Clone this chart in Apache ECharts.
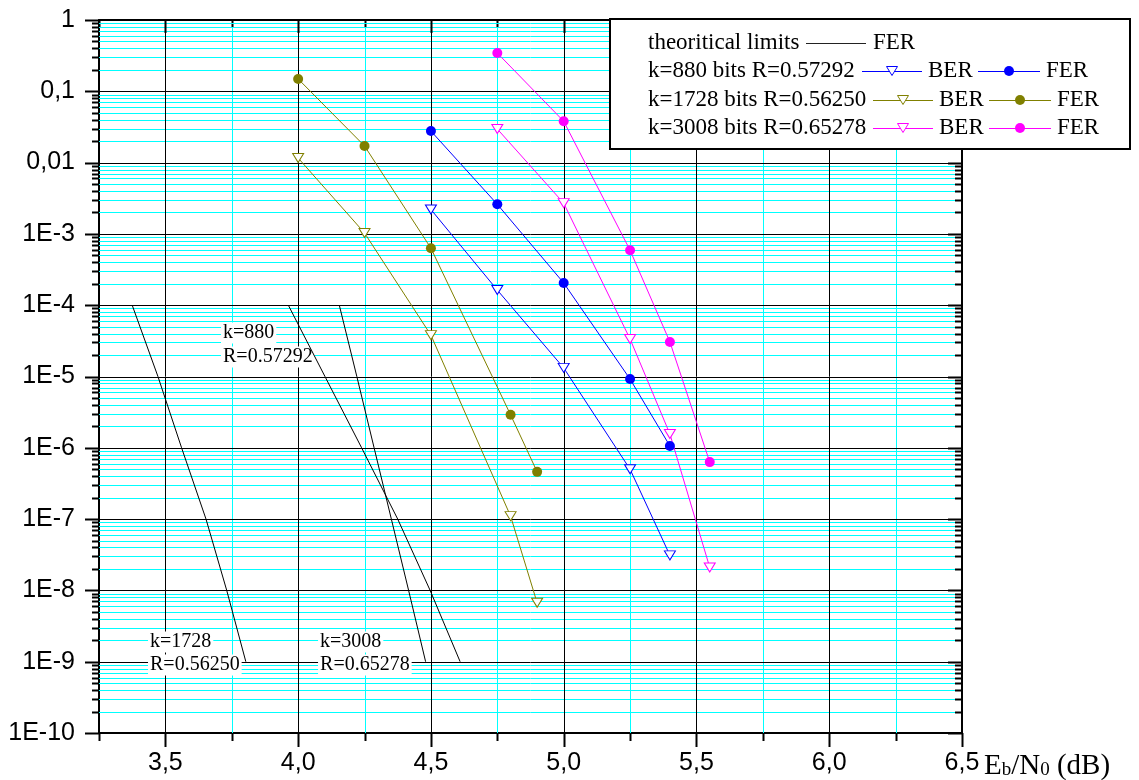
<!DOCTYPE html>
<html><head><meta charset="utf-8">
<script src="https://cdn.jsdelivr.net/npm/echarts@6/dist/echarts.min.js"></script>
<style>html,body{margin:0;padding:0;background:#fff}#c{width:1139px;height:780px}</style>
</head><body><div id="c"></div>
<script>
// ---------- data ----------
const ebn0_880  = [4.5, 4.75, 5.0, 5.25, 5.4];
const ber_880   = [2.2e-3, 1.63e-4, 1.32e-5, 5.0e-7, 3.1e-8];
const fer_880   = [0.0277, 2.6e-3, 2.05e-4, 9.2e-6, 1.06e-6];
const ebn0_1728 = [4.0, 4.25, 4.5, 4.8, 4.9];
const ber_1728  = [0.0116, 1.03e-3, 3.8e-5, 1.1e-7, 6.7e-9];
const fer_1728  = [0.149, 0.0171, 6.3e-4, 2.9e-6, 4.6e-7];
const ebn0_3008 = [4.75, 5.0, 5.25, 5.4, 5.55];
const ber_3008  = [0.0296, 2.7e-3, 3.36e-5, 1.56e-6, 2.1e-8];
const fer_3008  = [0.344, 0.038, 5.9e-4, 3.05e-5, 6.3e-7];
// theoretical limits (FER)
const limit_fer  = [1e-4, 1e-5, 1e-6, 1e-7, 1e-8, 1e-9];
const limit_880  = [3.963, 4.101, 4.239, 4.375, 4.497, 4.61];
const limit_1728 = [3.375, 3.472, 3.561, 3.653, 3.731, 3.803];
const limit_3008 = [4.155, 4.221, 4.286, 4.351, 4.416, 4.48];
// ticks
const xMajorTicks = [3.5, 4.0, 4.5, 5.0, 5.5, 6.0, 6.5];
const xMinorTicks = [3.25, 3.75, 4.25, 4.75, 5.25, 5.75, 6.25];
const yDecades = [0, -1, -2, -3, -4, -5, -6, -7, -8, -9, -10];
const yMinorMult = [2, 3, 4, 5, 6, 7, 8, 9];
const yTickLabels = {'0':'1','-1':'0,1','-2':'0,01','-3':'1E-3','-4':'1E-4','-5':'1E-5','-6':'1E-6','-7':'1E-7','-8':'1E-8','-9':'1E-9','-10':'1E-10'};
const legendLabels = ['theoritical limits', 'k=880 bits R=0.57292', 'k=1728 bits R=0.56250', 'k=3008 bits R=0.65278'];
const annotTexts = ['k=880', 'R=0.57292', 'k=1728', 'R=0.56250', 'k=3008', 'R=0.65278'];
const annotPos = [[3.7095, 4.07e-5], [3.7095, 1.875e-5], [3.4346, 1.89e-9], [3.4346, 9.0e-10], [4.0749, 1.89e-9], [4.0749, 9.0e-10]];

// ---------- helpers ----------
const zip = (xs, ys) => xs.map((x, i) => [x, ys[i]]);
const SANS = 'Liberation Sans';
const SERIF = 'Liberation Serif';
const BLUE = '#0000ff', OLIVE = '#808000', MAG = '#ff00ff';

// grid items: [x, y, kind]  kind 0 xMajor,1 xMinor,2 yMajor,3 yMinor
const gridData = [];
xMinorTicks.forEach(v => gridData.push([v, 1e-5, 1]));
yDecades.forEach(d => yMinorMult.forEach(m => { const v = m * Math.pow(10, d); if (v < 1) gridData.push([4, v, 3]); }));
xMajorTicks.forEach(v => gridData.push([v, 1e-5, 0]));
yDecades.forEach(d => gridData.push([4, Math.pow(10, d), 2]));

const h = v => Math.round(v) + 0.5;

function renderGrid(params, api) {
  const cs = params.coordSys;
  const L = cs.x, R = cs.x + cs.width, T = cs.y, B = cs.y + cs.height;
  const kind = api.value(2);
  const ch = [];
  if (kind < 2) {
    const px = h(api.coord([api.value(0), 1e-5])[0]);
    const major = kind === 0;
    if (px > L + 2 && px < R - 2)
      ch.push({type: 'line', shape: {x1: px, y1: T, x2: px, y2: B}, style: {stroke: major ? '#000' : '#00ffff', lineWidth: 1}});
    ch.push({type: 'line', shape: {x1: px, y1: B, x2: px, y2: B + (major ? 14 : 8)}, style: {stroke: '#000', lineWidth: 2}});
    ch.push({type: 'line', shape: {x1: px, y1: T, x2: px, y2: T + (major ? 13 : 7)}, style: {stroke: '#000', lineWidth: 2}});
  } else {
    const py = h(api.coord([4, api.value(1)])[1]);
    const major = kind === 2;
    if (py > T + 2 && py < B - 2)
      ch.push({type: 'line', shape: {x1: L, y1: py, x2: R, y2: py}, style: {stroke: major ? '#000' : '#00ffff', lineWidth: 1}});
    ch.push({type: 'line', shape: {x1: L - (major ? 14 : 7), y1: py, x2: L, y2: py}, style: {stroke: '#000', lineWidth: 2}});
    ch.push({type: 'line', shape: {x1: R - (major ? 14 : 7), y1: py, x2: R, y2: py}, style: {stroke: '#000', lineWidth: 2}});
  }
  return {type: 'group', children: ch};
}

function renderAnnot(params, api) {
  const p = api.coord([api.value(0), api.value(1)]);
  return {type: 'text', x: p[0], y: p[1], style: {text: annotTexts[params.dataIndex], font: '20px ' + SERIF, fill: '#000', verticalAlign: 'middle', align: 'left', backgroundColor: '#fff', padding: [1, 2, 0, 2]}};
}

function berSeries(name, xs, ys, c) {
  return {name, type: 'line', data: zip(xs, ys), z: 4, symbol: 'triangle', symbolRotate: 180, symbolSize: [11, 9],
    showAllSymbol: true, itemStyle: {color: '#fff', borderColor: c, borderWidth: 1}, lineStyle: {color: c, width: 1}};
}
function ferSeries(name, xs, ys, c) {
  return {name, type: 'line', data: zip(xs, ys), z: 4, symbol: 'circle', symbolSize: 10,
    showAllSymbol: true, itemStyle: {color: c, borderColor: c, borderWidth: 0}, lineStyle: {color: c, width: 1}};
}
function limitSeries(name, xs) {
  return {name, type: 'line', data: zip(xs, limit_fer), z: 3, symbol: 'none', lineStyle: {color: '#000', width: 1}};
}

// legend graphics
const LG = [];
const ZL = 100;
const rowY = [43, 71, 100, 128];
LG.push({type: 'rect', z: ZL, shape: {x: 610, y: 19, width: 520, height: 130}, style: {fill: '#fff', stroke: '#000', lineWidth: 2}});
function lgText(x, y, t) { LG.push({type: 'text', z: ZL + 1, x, y, style: {text: t, font: '23px ' + SERIF, fill: '#000', verticalAlign: 'middle'}}); }
legendLabels.forEach((t, i) => lgText(648, rowY[i], t));
function lgLine(x1, x2, y, c) { LG.push({type: 'line', z: ZL + 1, shape: {x1, y1: h(y), x2, y2: h(y)}, style: {stroke: c, lineWidth: 1}}); }
function lgTri(cx, cy, c) { LG.push({type: 'polygon', z: ZL + 2, shape: {points: [[cx - 5.5, cy - 4.5], [cx + 5.5, cy - 4.5], [cx, cy + 4.5]]}, style: {fill: '#fff', stroke: c, lineWidth: 1}}); }
function lgDot(cx, cy, c) { LG.push({type: 'circle', z: ZL + 2, shape: {cx, cy, r: 5}, style: {fill: c}}); }
lgLine(806, 866, rowY[0], '#222'); lgText(873, rowY[0], 'FER');
const cols = [null, 862, 873, 873];
const cls = [null, BLUE, OLIVE, MAG];
for (let i = 1; i < 4; i++) {
  const x0 = cols[i], y = rowY[i], c = cls[i];
  lgLine(x0, x0 + 60, y, c); lgTri(x0 + 30, y, c); lgText(x0 + 66, y, 'BER');
  lgLine(x0 + 116, x0 + 178, y, c); lgDot(x0 + 147, y, c); lgText(x0 + 184, y, 'FER');
}
// axis title
LG.push({type: 'text', z: ZL, x: 984, y: 766, style: {
  text: '{m|E}{s|b}{m|/N}{s|0}{m| (dB)}', fill: '#000', verticalAlign: 'middle',
  rich: {m: {font: '29px ' + SERIF, fill: '#000', verticalAlign: 'bottom', height: 30, lineHeight: 30},
         s: {font: '19px ' + SERIF, fill: '#000', verticalAlign: 'bottom', height: 22, lineHeight: 22}}}});

const chart = echarts.init(document.getElementById('c'), null, {renderer: 'canvas'});
chart.setOption({
  animation: false,
  backgroundColor: '#fff',
  grid: {left: 99, right: 177, top: 20, bottom: 47},
  xAxis: [{
    type: 'value', min: 3.25, max: 6.5, interval: 0.25, position: 'bottom',
    axisLine: {show: true, lineStyle: {color: '#000', width: 2}}, axisTick: {show: false}, splitLine: {show: false},
    axisLabel: {showMinLabel: true, showMaxLabel: true, margin: 18, color: '#000', fontFamily: SANS, fontSize: 25,
      formatter: v => Math.abs(v * 2 - Math.round(v * 2)) < 1e-6 ? v.toFixed(1).replace('.', ',') : ''}
  }, {
    type: 'value', min: 3.25, max: 6.5, interval: 0.25, position: 'top',
    axisLine: {show: true, lineStyle: {color: '#000', width: 2}}, axisTick: {show: false}, splitLine: {show: false}, axisLabel: {show: false}
  }],
  yAxis: [{
    type: 'log', logBase: 10, min: 1e-10, max: 1, interval: 1, position: 'left',
    axisLine: {show: true, lineStyle: {color: '#000', width: 2}}, axisTick: {show: false}, splitLine: {show: false}, minorTick: {show: false},
    axisLabel: {margin: 24, color: '#000', fontFamily: SANS, fontSize: 25, showMinLabel: true, showMaxLabel: true,
      formatter: v => yTickLabels[String(Math.round(Math.log10(v)))] || ''}
  }, {
    type: 'log', logBase: 10, min: 1e-10, max: 1, interval: 1, position: 'right',
    axisLine: {show: true, lineStyle: {color: '#000', width: 2}}, axisTick: {show: false}, splitLine: {show: false}, axisLabel: {show: false}
  }],
  series: [
    {type: 'custom', name: 'grid', data: gridData, renderItem: renderGrid, clip: false, z: 1, silent: true, encode: {x: 0, y: 1}},
    limitSeries('lim1728', limit_1728),
    limitSeries('lim880', limit_880),
    limitSeries('lim3008', limit_3008),
    {type: 'custom', name: 'annot', data: annotPos, renderItem: renderAnnot, clip: false, z: 2, silent: true, encode: {x: 0, y: 1}},
    berSeries('BER 1728', ebn0_1728, ber_1728, OLIVE),
    ferSeries('FER 1728', ebn0_1728, fer_1728, OLIVE),
    berSeries('BER 880', ebn0_880, ber_880, BLUE),
    ferSeries('FER 880', ebn0_880, fer_880, BLUE),
    berSeries('BER 3008', ebn0_3008, ber_3008, MAG),
    ferSeries('FER 3008', ebn0_3008, fer_3008, MAG)
  ],
  graphic: LG
});
</script></body></html>
